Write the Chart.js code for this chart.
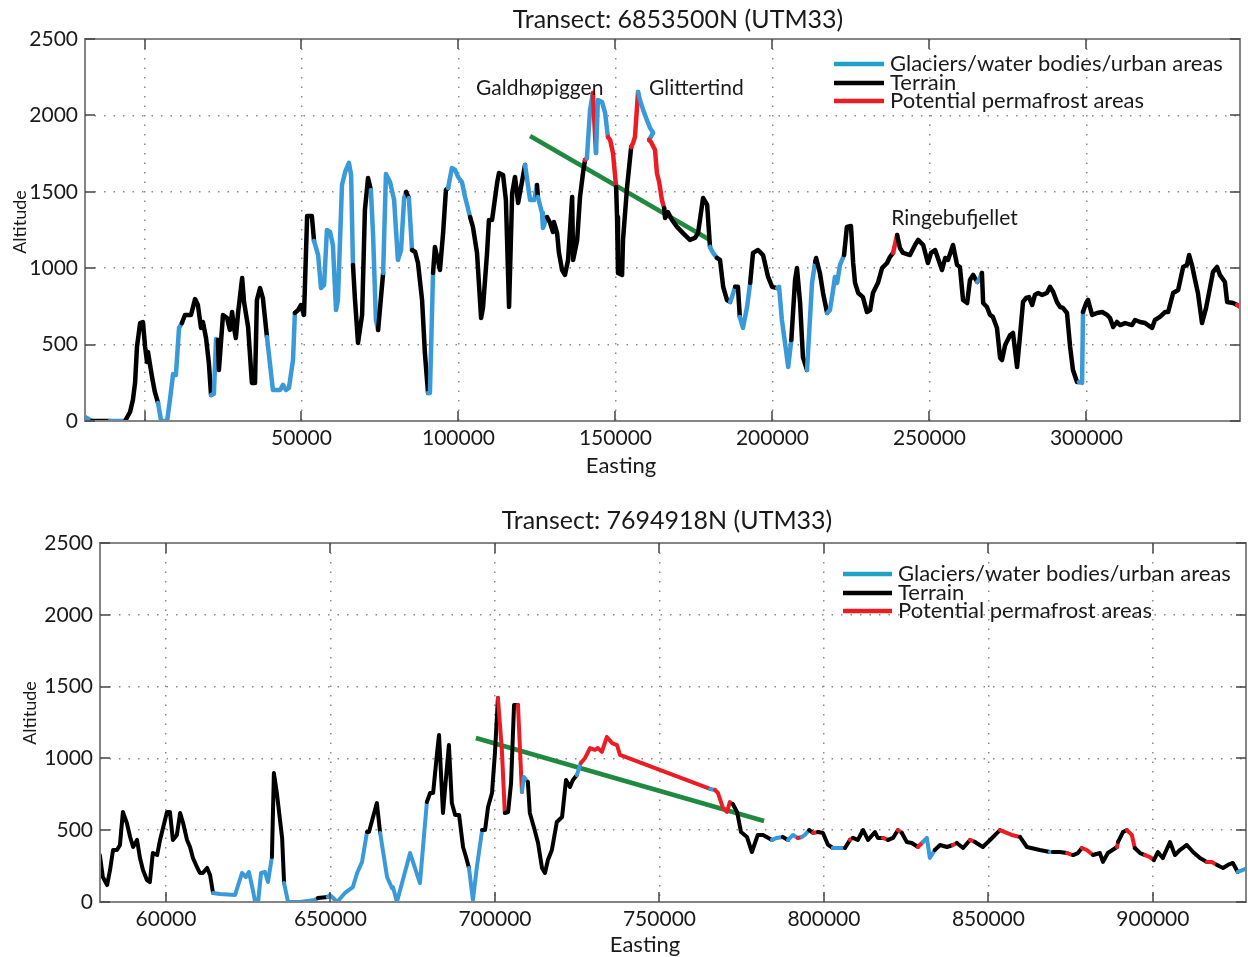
<!DOCTYPE html>
<html>
<head>
<meta charset="utf-8">
<script src="https://cdn.jsdelivr.net/npm/chart.js@4/dist/chart.umd.min.js"></script>
<style>
  html, body { margin: 0; padding: 0; background: #fff; }
  canvas { display: block; }
</style>
</head>
<body>
<canvas id="topChart" width="1248" height="478"></canvas>
<canvas id="bottomChart" width="1248" height="479"></canvas>
<script>
// ---- transect 6853500N (easting m, altitude m, class of segment starting at point) ----
const topEasting = [
  -18950, -16700, -11000, -6200, -4600, -3700, -3000, -2400,
  -1400, -500, 200, 800, 1100, 2400, 3300, 4300,
  5300, 7200, 8100, 9100, 10000, 11000, 11900, 12900,
  14800, 16100, 17000, 18000, 18600, 19600, 20500, 21200,
  22100, 22800, 23400, 23700, 25000, 26300, 27200, 27900,
  28500, 29100, 29800, 31100, 31700, 33000, 34200, 35200,
  35800, 36800, 37700, 39000, 40900, 43200, 44100, 45100,
  46000, 47300, 47900, 48900, 49800, 50800, 51800, 53300,
  54000, 55300, 56200, 57200, 58100, 59100, 60000, 61000,
  61600, 62900, 63900, 65100, 65800, 66400, 67000, 68000,
  69300, 70200, 71200, 72100, 72800, 73700, 74400, 76000,
  76900, 78200, 79500, 80700, 81700, 82700, 83300, 84200,
  85200, 86200, 87100, 88400, 89300, 90300, 90900, 91900,
  92500, 93200, 94100, 95100, 96000, 96700, 97900, 98900,
  99900, 101100, 102100, 103700, 104600, 105900, 106500, 107200,
  107800, 109100, 109700, 110700, 112300, 112900, 114200, 115100,
  116100, 117100, 118000, 119000, 121200, 122800, 124100, 125000,
  125300, 126600, 126900, 128200, 129200, 130100, 130400, 131400,
  132000, 133000, 133900, 134900, 136200, 136500, 137800, 138700,
  139700, 140300, 140900, 141900, 142800, 143800, 144400, 145700,
  146700, 147600, 148300, 149200, 150200, 150500, 150800, 152100,
  152400, 153700, 155000, 155600, 156200, 157200, 157800, 158800,
  160000, 161000, 162000, 160700, 161300, 162600, 163200, 163900,
  164800, 165500, 165800, 166700, 168000, 169600, 171500, 173700,
  175300, 176300, 177900, 179200, 180100, 181100, 182300, 183300,
  184300, 185500, 186500, 187100, 188100, 189000, 189600, 190600,
  191900, 192900, 193800, 195400, 197000, 198600, 199900, 201500,
  202100, 203000, 204000, 205000, 206000, 207200, 207800, 208800,
  209700, 211000, 212600, 213600, 213900, 215100, 216100, 217400,
  218300, 219300, 219900, 220600, 221500, 222800, 223700, 225000,
  225700, 226300, 227300, 228800, 230100, 231100, 232000, 233600,
  234900, 236500, 237400, 238400, 239700, 240600, 241600, 243800,
  245400, 246400, 248000, 249500, 250500, 251800, 254000, 255000,
  255900, 257500, 258800, 259700, 260700, 262000, 262900, 263900,
  265200, 265800, 266700, 267100, 268300, 269300, 270200, 271500,
  272500, 273100, 274100, 275700, 276600, 277900, 278800, 279800,
  280800, 281700, 282700, 283600, 284600, 285900, 287400, 288400,
  289400, 290600, 291600, 292500, 293800, 294800, 295700, 297000,
  297600, 298600, 298900, 299900, 300500, 301800, 303400, 305000,
  306600, 307500, 308500, 309700, 310700, 312300, 314500, 315500,
  317100, 318700, 319600, 320900, 321800, 323400, 325000, 326000,
  327600, 329200, 330800, 332000, 332700, 333600, 334600, 335500,
  336800, 338100, 339400, 340300, 341600, 342500, 344100, 344800,
  346700, 348000, 348900
];
const topAltitude = [
  26, 0, 0, 0, 59, 137, 250, 484,
  641, 648, 484, 386, 452, 288, 190, 118,
  0, 0, 137, 307, 301, 609, 641, 694,
  694, 798, 759, 609, 648, 543, 380, 170,
  177, 537, 530, 334, 694, 674, 596, 713,
  609, 543, 707, 936, 779, 615, 249, 249,
  792, 870, 805, 550, 203, 203, 236, 203,
  216, 400, 707, 726, 759, 694, 1342, 1342,
  1178, 1086, 870, 890, 1250, 1237, 1152, 726,
  792, 1545, 1630, 1689, 1610, 1021, 805, 511,
  694, 1382, 1590, 1512, 1217, 661, 596, 969,
  1617, 1564, 1446, 1054, 1119, 1460, 1499, 1460,
  1119, 1106, 1034, 792, 445, 183, 183, 969,
  1139, 1073, 988, 1230, 1512, 1525, 1656, 1643,
  1597, 1564, 1466, 1335, 1270, 1100, 904, 674,
  740, 1100, 1316, 1316, 1558, 1623, 1610, 1446,
  746, 1492, 1597, 1427, 1676, 1446, 1446, 1545,
  1466, 1361, 1263, 1335, 1296, 1237, 1302, 1230,
  1100, 988, 956, 1054, 1466, 1054, 1185, 1466,
  1630, 1708, 1720, 2035, 2147, 1754, 2101, 2088,
  2016, 1859, 1839, 1754, 1532, 1335, 969, 956,
  1185, 1532, 1793, 1819, 1859, 2153, 2101, 2036,
  1970, 1918, 1885, 1839, 1826, 1774, 1623, 1564,
  1446, 1394, 1328, 1368, 1316, 1270, 1230, 1185,
  1198, 1230, 1460, 1414, 1139, 1100, 1067, 1054,
  878, 792, 779, 811, 878, 878, 681, 609,
  746, 904, 1100, 1119, 1086, 943, 878, 870,
  878, 661, 511, 353, 530, 923, 1001, 772,
  419, 334, 904, 1041, 1067, 969, 838, 707,
  726, 857, 943, 904, 1021, 1086, 1270, 1276,
  1034, 904, 838, 811, 713, 726, 838, 904,
  1001, 1034, 1073, 1100, 1217, 1132, 1100, 1086,
  1152, 1185, 1152, 1034, 1100, 1119, 988, 1067,
  1054, 1152, 1021, 1008, 792, 772, 923, 956,
  910, 923, 969, 772, 746, 694, 681, 609,
  412, 399, 497, 563, 576, 353, 550, 779,
  805, 811, 759, 825, 838, 825, 838, 878,
  844, 779, 746, 740, 707, 484, 334, 255,
  255, 249, 713, 772, 792, 694, 707, 713,
  694, 674, 615, 648, 628, 641, 628, 661,
  648, 641, 628, 609, 661, 681, 713, 713,
  838, 857, 1008, 1021, 1086, 1021, 923, 838,
  641, 740, 878, 975, 1008, 956, 910, 779,
  772, 759, 746
];
// G = glaciers/water bodies/urban areas, T = terrain, P = potential permafrost
const topClass = [
  'G','T','G','T','T','T','T','T',
  'T','T','T','T','T','T','T','G',
  'G','G','G','G','G','G','T','T',
  'T','T','T','T','T','T','T','G',
  'G','G','T','T','T','T','T','T',
  'T','T','T','T','T','T','T','T',
  'T','T','T','G','G','G','G','G',
  'G','G','T','T','T','T','T','T',
  'G','G','G','G','G','G','G','G',
  'G','G','G','G','G','T','T','T',
  'T','T','T','G','G','G','T','G',
  'G','G','G','G','G','G','T','G',
  'T','T','T','T','T','G','G','T',
  'T','T','T','T','T','G','G','G',
  'G','G','G','T','T','T','T','T',
  'T','T','T','T','T','T','T','T',
  'T','T','T','T','G','G','G','T',
  'G','G','G','T','T','T','T','T',
  'T','T','T','T','T','T','T','T',
  'T','P','G','G','P','G','G','G',
  'G','P','P','P','T','T','T','T',
  'T','T','P','P','P','G','G','G',
  'G','G','G','P','P','P','P','P',
  'P','T','T','T','T','T','T','T',
  'T','T','T','T','G','G','T','T',
  'T','T','G','G','T','T','G','G',
  'G','T','T','T','T','T','T','G',
  'G','G','G','G','T','T','T','T',
  'T','G','G','T','T','T','T','G',
  'G','G','G','G','G','T','T','T',
  'T','T','T','T','T','T','T','T',
  'T','T','T','P','T','T','T','T',
  'T','T','T','T','T','T','T','T',
  'T','T','T','T','T','T','T','T',
  'G','G','T','T','T','T','T','T',
  'T','T','T','T','T','T','T','T',
  'T','T','T','T','T','T','T','T',
  'T','T','T','T','T','T','T','T',
  'G','G','T','T','T','T','T','T',
  'T','T','T','T','T','T','T','T',
  'T','T','T','T','T','T','T','T',
  'T','T','T','T','T','T','T','T',
  'T','T','T','T','T','T','T','T',
  'T','P','P'
];
const topTrendEasting = [122800, 180100];
const topTrendAltitude = [1865, 1185];
const topXTicks = [0, 50000, 100000, 150000, 200000, 250000, 300000];
const topXLabels = ['', '50000', '100000', '150000', '200000', '250000', '300000'];

// ---- transect 7694918N ----
const bottomEasting = [
  579900, 580800, 582100, 583000, 583900, 585100, 586000, 586900,
  588100, 589100, 590000, 591200, 592100, 593000, 594200, 595100,
  596000, 597300, 598200, 599100, 600300, 601200, 602100, 603300,
  604300, 605200, 606400, 607300, 608200, 609400, 610300, 611200,
  612500, 613400, 614300, 616400, 621000, 623100, 624300, 625200,
  626400, 627100, 628000, 628900, 630100, 631000, 632200, 632800,
  633700, 635300, 635900, 637100, 640700, 645300, 646200, 649200,
  649800, 650800, 652000, 654400, 656800, 658100, 659600, 661100,
  661700, 664100, 665100, 667200, 668700, 669000, 670200, 674200,
  677200, 679300, 680300, 681200, 682400, 683000, 684200, 684800,
  686000, 686900, 687900, 689100, 690300, 691200, 692100, 693300,
  694500, 696100, 697000, 697900, 699100, 700000, 700900, 702100,
  703000, 704000, 704900, 705800, 707000, 708200, 708800, 710000,
  710600, 711900, 713100, 714300, 715200, 716100, 717300, 718800,
  720400, 721600, 722800, 723700, 724900, 726100, 727400, 728900,
  730400, 731300, 732500, 734000, 735600, 737100, 738000, 765400,
  766900, 767800, 769300, 770500, 771400, 772300, 773600, 774800,
  776600, 778100, 779900, 781500, 784200, 785700, 787500, 789100,
  790600, 792100, 793300, 794200, 795500, 796700, 798200, 799700,
  801200, 802700, 804900, 806400, 807900, 808800, 810300, 811900,
  813400, 815500, 816400, 817900, 819500, 821000, 822500, 823700,
  825200, 826700, 828600, 830100, 831300, 832200, 833700, 835300,
  837400, 839200, 840400, 842300, 844400, 845900, 848300, 850500,
  853500, 857100, 859600, 861700, 865600, 868700, 869600, 871700,
  873900, 875700, 877200, 878400, 879900, 881800, 883900, 884800,
  886300, 889100, 889400, 890900, 892100, 893600, 894500, 896100,
  897600, 899100, 900300, 901500, 903000, 905200, 906700, 908200,
  910300, 912200, 914300, 916400, 917900, 919500, 921300, 922800,
  924300, 925800, 927400, 928600
];
const bottomAltitude = [
  327, 174, 118, 223, 362, 362, 397, 627,
  550, 453, 383, 432, 306, 223, 153, 139,
  341, 327, 432, 515, 627, 627, 432, 467,
  620, 550, 432, 383, 306, 244, 202, 202,
  237, 188, 63, 56, 49, 202, 174, 209,
  84, 0, 0, 202, 209, 139, 313, 898,
  759, 446, 132, 0, 0, 14, 28, 35,
  49, 28, 0, 63, 104, 202, 279, 487,
  487, 689, 481, 174, 97, 104, 0, 341,
  132, 696, 759, 759, 1038, 1163, 620, 780,
  1093, 689, 606, 606, 383, 313, 237, 14,
  244, 501, 501, 662, 759, 1038, 1421, 1059,
  620, 627, 829, 1372, 1372, 766, 870, 836,
  620, 515, 411, 237, 202, 292, 362, 557,
  592, 850, 801, 850, 884, 968, 1003, 1072,
  1059, 1072, 1045, 1149, 1107, 1093, 1024, 787,
  780, 759, 655, 627, 696, 682, 627, 487,
  453, 348, 467, 467, 432, 446, 453, 432,
  467, 446, 453, 467, 501, 481, 487, 481,
  400, 376, 376, 376, 432, 446, 432, 501,
  432, 487, 446, 446, 432, 446, 501, 481,
  418, 411, 383, 418, 446, 306, 362, 397,
  383, 397, 411, 376, 432, 418, 383, 432,
  501, 467, 453, 383, 362, 348, 348, 348,
  341, 327, 341, 376, 362, 327, 341, 279,
  341, 383, 418, 487, 501, 467, 376, 341,
  327, 313, 292, 348, 306, 418, 327, 362,
  397, 348, 306, 279, 279, 258, 237, 258,
  272, 209, 223, 237
];
const bottomClass = [
  'T','T','T','T','T','T','T','T',
  'T','T','T','T','T','T','T','T',
  'T','T','T','T','T','T','T','T',
  'T','T','T','T','T','T','T','T',
  'T','T','G','G','G','G','G','G',
  'G','G','G','G','G','G','T','T',
  'T','T','G','G','G','G','T','G',
  'G','G','G','G','G','G','G','T',
  'T','T','G','G','G','G','G','G',
  'G','T','T','T','T','T','T','T',
  'T','T','T','T','T','T','G','G',
  'G','T','T','T','T','T','P','P',
  'T','T','T','T','P','G','G','T',
  'T','T','T','T','T','T','T','T',
  'T','T','T','T','G','P','P','P',
  'P','P','P','P','P','P','P','G',
  'P','P','P','P','P','T','T','T',
  'T','T','T','T','G','G','T','G',
  'G','P','G','G','T','P','T','T',
  'T','G','G','T','P','T','T','T',
  'T','T','T','P','T','T','P','T',
  'T','T','P','G','G','G','T','T',
  'T','P','T','T','P','T','T','T',
  'P','P','T','T','T','G','T','T',
  'P','T','T','P','P','T','T','T',
  'T','P','T','T','P','P','T','T',
  'P','P','T','T','T','T','T','T',
  'T','T','T','P','P','T','T','T',
  'T','G','G','G'
];
const bottomTrendEasting = [694200, 781800];
const bottomTrendAltitude = [1142, 564];
const bottomXTicks = [600000, 650000, 700000, 750000, 800000, 850000, 900000];
const bottomXLabels = ['60000', '650000', '700000', '750000', '800000', '850000', '900000'];

const yTicks = [0, 500, 1000, 1500, 2000, 2500];
const legendLabels = ['Glaciers/water bodies/urban areas', 'Terrain', 'Potential permafrost areas'];

// ---- styling ----
const FONT = 'Lato, "Open Sans", sans-serif';
const TEXT = '#1a1a1a';
const GRID = '#8a8a8a';
const FRAME = '#858585';
const TICK = '#444444';
const GREEN = '#1f8a3f';
const LINE_COLORS = { G: '#3a9ad9', T: '#000000', P: '#ec1c24' };
const LEGEND_COLORS = ['#1ea2c8', '#000000', '#ec1c24'];

const decorations = {
  id: 'decorations',
  afterDatasetsDraw(chart, args, o) {
    const { ctx, chartArea: a, scales } = chart;
    ctx.save();

    // box and inward ticks
    ctx.strokeStyle = FRAME;
    ctx.lineWidth = 2;
    ctx.strokeRect(a.left, a.top, a.right - a.left, a.bottom - a.top);
    ctx.strokeStyle = TICK;
    ctx.lineWidth = 1.5;
    ctx.beginPath();
    scales.x.ticks.forEach(t => {
      const px = Math.round(scales.x.getPixelForValue(t.value));
      ctx.moveTo(px, a.bottom); ctx.lineTo(px, a.bottom - 10);
      ctx.moveTo(px, a.top); ctx.lineTo(px, a.top + 10);
    });
    scales.y.ticks.forEach(t => {
      const py = Math.round(scales.y.getPixelForValue(t.value));
      ctx.moveTo(a.left, py); ctx.lineTo(a.left + 10, py);
      ctx.moveTo(a.right, py); ctx.lineTo(a.right - 10, py);
    });
    ctx.stroke();

    // legend
    ctx.lineCap = 'butt';
    ctx.font = `22px ${FONT}`;
    ctx.textBaseline = 'middle';
    ctx.textAlign = 'left';
    legendLabels.forEach((label, i) => {
      const y = o.legend.rows[i];
      ctx.strokeStyle = LEGEND_COLORS[i];
      ctx.lineWidth = 4.5;
      ctx.beginPath();
      ctx.moveTo(o.legend.x0, y); ctx.lineTo(o.legend.x1, y);
      ctx.stroke();
      ctx.fillStyle = TEXT;
      ctx.fillText(label, o.legend.textX, y);
    });

    // peak names
    ctx.font = `21px ${FONT}`;
    (o.notes || []).forEach(n => {
      ctx.fillText(n.text, scales.x.getPixelForValue(n.x), scales.y.getPixelForValue(n.y));
    });

    // titles
    ctx.textAlign = 'center';
    ctx.font = `25px ${FONT}`;
    ctx.fillText(o.title.text, o.title.x, o.title.y);
    ctx.font = `22px ${FONT}`;
    ctx.fillText('Easting', o.xTitle.x, o.xTitle.y);
    ctx.save();
    ctx.translate(o.yTitle.x, o.yTitle.y);
    ctx.rotate(-Math.PI / 2);
    ctx.font = `18px ${FONT}`;
    ctx.fillText('Altitude', 0, 0);
    ctx.restore();

    ctx.restore();
  }
};

function makeChart(id, p) {
  const points = p.easting.map((e, i) => ({ x: e, y: p.altitude[i] }));
  const trend = p.trendEasting.map((e, i) => ({ x: e, y: p.trendAltitude[i] }));
  return new Chart(document.getElementById(id), {
    type: 'line',
    data: {
      datasets: [
        {
          data: points,
          borderColor: '#000',
          borderWidth: p.lineWidth,
          pointRadius: 0,
          tension: 0,
          borderJoinStyle: 'round',
          borderCapStyle: 'round',
          segment: { borderColor: c => LINE_COLORS[p.cls[c.p0DataIndex]] }
        },
        { data: trend, borderColor: GREEN, borderWidth: 4.5, pointRadius: 0, tension: 0 }
      ]
    },
    options: {
      responsive: false,
      animation: false,
      events: [],
      layout: { padding: p.padding },
      plugins: {
        legend: { display: false },
        tooltip: { enabled: false },
        decorations: p.deco
      },
      scales: {
        x: {
          type: 'linear',
          min: p.xMin,
          max: p.xMax,
          afterFit: s => { s.height = p.xAxisHeight; },
          afterBuildTicks: s => { s.ticks = p.xTicks.map(v => ({ value: v })); },
          grid: { color: GRID, lineWidth: 1.5, drawTicks: false },
          border: { display: false, dash: [1.5, 8] },
          ticks: {
            padding: 5, color: TEXT, maxRotation: 0, autoSkip: false,
            font: { family: FONT, size: 21 },
            callback: (v, i) => p.xLabels[i]
          }
        },
        y: {
          min: 0,
          max: 2500,
          afterFit: s => { s.width = p.yAxisWidth; },
          afterBuildTicks: s => { s.ticks = yTicks.map(v => ({ value: v })); },
          grid: { color: GRID, lineWidth: 1.5, drawTicks: false },
          border: { display: false, dash: [1.5, 8] },
          ticks: {
            padding: 7, color: TEXT,
            font: { family: FONT, size: 21 },
            callback: v => String(v)
          }
        }
      }
    },
    plugins: [decorations]
  });
}

makeChart('topChart', {
  easting: topEasting, altitude: topAltitude, cls: topClass,
  trendEasting: topTrendEasting, trendAltitude: topTrendAltitude,
  xTicks: topXTicks, xLabels: topXLabels,
  xMin: -18950, xMax: 348900,
  lineWidth: 4.5,
  padding: { left: 0, right: 8, top: 39, bottom: 0 },
  yAxisWidth: 85, xAxisHeight: 57,
  deco: {
    title: { text: 'Transect: 6853500N (UTM33)', x: 678, y: 20 },
    xTitle: { x: 621, y: 466 },
    yTitle: { x: 20, y: 222 },
    legend: { x0: 834, x1: 884, textX: 890, rows: [64, 83, 101] },
    notes: [
      { text: 'Galdhøpiggen', x: 105600, y: 2180 },
      { text: 'Glittertind', x: 160700, y: 2180 },
      { text: 'Ringebufjellet', x: 237800, y: 1329 }
    ]
  }
});

makeChart('bottomChart', {
  easting: bottomEasting, altitude: bottomAltitude, cls: bottomClass,
  trendEasting: bottomTrendEasting, trendAltitude: bottomTrendAltitude,
  xTicks: bottomXTicks, xLabels: bottomXLabels,
  xMin: 579940, xMax: 928300,
  lineWidth: 4,
  padding: { left: 0, right: 2, top: 65, bottom: 0 },
  yAxisWidth: 100, xAxisHeight: 55,
  deco: {
    title: { text: 'Transect: 7694918N (UTM33)', x: 667, y: 43 },
    xTitle: { x: 645, y: 467 },
    yTitle: { x: 30, y: 235 },
    legend: { x0: 843, x1: 892, textX: 898, rows: [96, 115, 133] },
    notes: []
  }
});
</script>
</body>
</html>
